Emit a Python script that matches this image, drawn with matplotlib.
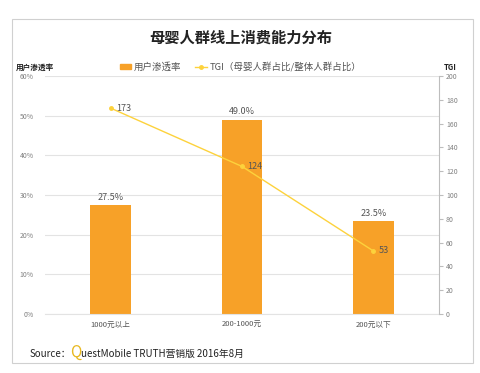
import matplotlib
matplotlib.use('Agg')
from matplotlib import pyplot as plt
from matplotlib.patches import Rectangle, Patch
from matplotlib.lines import Line2D
import numpy as np

plt.rcParams['font.family'] = ['Noto Sans CJK SC', 'DejaVu Sans']

# data
categories = ['1000元以上', '200-1000元', '200元以下']
penetration = [27.5, 49.0, 23.5]   # 用户渗透率 (%)
tgi = [173, 124, 53]

bar_color = '#F7A128'
line_color = '#FDD23C'
grid_color = '#E3E3E3'
tick_color = '#808080'

W, H = 481, 373
fig = plt.figure(figsize=(W / 100, H / 100), dpi=100)

# outer frame
fig.patches.append(Rectangle((12 / W, 1 - 363 / H), 461 / W, 344 / H,
                             transform=fig.transFigure, fill=False,
                             edgecolor='#D0D0D0', linewidth=0.8))

ax = fig.add_axes([45 / W, 1 - 314 / H, 394 / W, 238 / H])
x = np.arange(len(categories))
bars = ax.bar(x, penetration, width=0.31, color=bar_color, zorder=2)
ax.set_xlim(-0.5, 2.5)
ax.set_ylim(0, 60)
ax.set_yticks(np.arange(0, 61, 10))
ax.set_yticklabels([f'{v}%' for v in range(0, 61, 10)])
ax.yaxis.grid(True, color=grid_color, linewidth=0.8, zorder=0)
ax.set_xticks(x)
ax.set_xticklabels(categories)
for s in ['top', 'left', 'right']:
    ax.spines[s].set_visible(False)
ax.spines['bottom'].set_color(grid_color)
ax.tick_params(axis='y', length=0, labelsize=5, labelcolor=tick_color, pad=8)
ax.tick_params(axis='x', length=0, labelsize=5.5, labelcolor='#555555', pad=5)

for xi, v in zip(x, penetration):
    ax.text(xi, v + 0.8, f'{v:.1f}%', ha='center', va='bottom',
            fontsize=6.5, color='#555555')

ax2 = ax.twinx()
ax2.plot(x, tgi, color=line_color, linewidth=1.0, marker='o',
         markersize=2.5, zorder=3)
ax2.set_ylim(0, 200)
ax2.set_yticks(np.arange(0, 201, 20))
for s in ['top', 'left', 'bottom']:
    ax2.spines[s].set_visible(False)
ax2.spines['right'].set_color('#BDBDBD')
ax2.tick_params(axis='y', length=3, color='#BDBDBD', labelsize=5,
                labelcolor=tick_color, pad=2)
for xi, v in zip(x, tgi):
    ax2.text(xi + 0.04, v, str(v), ha='left', va='center',
             fontsize=6.5, color='#555555')

# titles and axis names
fig.text(0.5, 1 - 38 / H, '母婴人群线上消费能力分布', ha='center', va='center',
         fontsize=11, fontweight='bold', color='#222222')
fig.text(16 / W, 1 - 67 / H, '用户渗透率', ha='left', va='center',
         fontsize=5.5, fontweight='bold', color='#222222')
fig.text(450 / W, 1 - 67 / H, 'TGI', ha='center', va='center',
         fontsize=5.5, fontweight='bold', color='#222222')

handles = [Patch(color=bar_color),
           Line2D([0], [0], color=line_color, marker='o', markersize=2.5, linewidth=1)]
labels = ['用户渗透率', 'TGI（母婴人群占比/整体人群占比）']
fig.legend(handles, labels, loc='center', bbox_to_anchor=(0.5, 1 - 67 / H),
           ncol=2, frameon=False, fontsize=6.8, handlelength=1.2,
           handleheight=0.5, columnspacing=1.5, handletextpad=0.3,
           labelcolor='#555555')

# source
fig.text(30 / W, 1 - 354 / H, 'Source：', ha='left', va='center',
         fontsize=7, color='#222222')
fig.text(70 / W, 1 - 352 / H, 'Q', ha='left', va='center',
         fontsize=11, color='#E8B820')
fig.text(81 / W, 1 - 354 / H, 'uestMobile TRUTH营销版 2016年8月', ha='left',
         va='center', fontsize=7, color='#222222')

fig.savefig('out.png', dpi=100)
